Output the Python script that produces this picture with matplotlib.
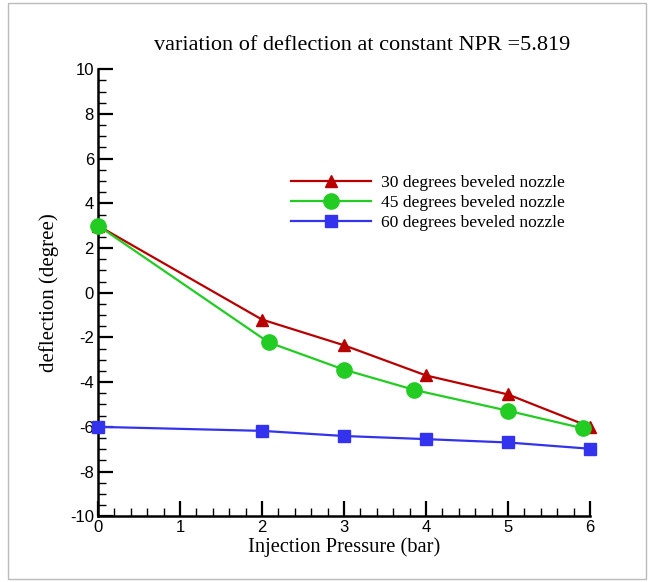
import matplotlib
matplotlib.use("Agg")
import matplotlib.pyplot as plt
from matplotlib.ticker import MultipleLocator, FuncFormatter
from matplotlib.patches import Rectangle

x30 = [0, 2, 3, 4, 5, 6]
y30 = [3.0, -1.2, -2.35, -3.7, -4.55, -6.0]
x45 = [0, 2.08, 3.0, 3.86, 5.0, 5.91]
y45 = [3.0, -2.22, -3.44, -4.35, -5.28, -6.06]
x60 = [0, 2, 3, 4, 5, 6]
y60 = [-6.0, -6.18, -6.41, -6.55, -6.70, -6.98]
labels = ["30 degrees beveled nozzle", "45 degrees beveled nozzle", "60 degrees beveled nozzle"]

fig = plt.figure(figsize=(6.54, 5.82), dpi=100)
ax = fig.add_axes([0.150, 0.113, 0.752, 0.768])

ax.plot(x30, y30, color="#b80000", lw=1.6, marker="^", ms=9, label=labels[0], clip_on=False, zorder=3)
ax.plot(x45, y45, color="#22cc22", lw=1.6, marker="o", ms=11, label=labels[1], clip_on=False, zorder=4)
ax.plot(x60, y60, color="#3333ee", lw=1.6, marker="s", ms=8, label=labels[2], clip_on=False, zorder=3)

ax.set_xlim(0, 6)
ax.set_ylim(-10, 10)
ax.xaxis.set_major_locator(MultipleLocator(1))
ax.xaxis.set_minor_locator(MultipleLocator(0.2))
ax.yaxis.set_major_locator(MultipleLocator(2))
ax.yaxis.set_minor_locator(MultipleLocator(0.5))
fmt = FuncFormatter(lambda v, p: "%d" % round(v))
ax.xaxis.set_major_formatter(fmt)
ax.yaxis.set_major_formatter(fmt)
for s in ["top", "right"]:
    ax.spines[s].set_visible(False)
for s in ["left", "bottom"]:
    ax.spines[s].set_linewidth(1.8)
ax.tick_params(which="major", direction="in", length=11, width=1.6, labelsize=12, pad=3)
ax.tick_params(which="minor", direction="in", length=6, width=1.0)
for lab in ax.get_xticklabels() + ax.get_yticklabels():
    lab.set_fontfamily("Liberation Sans")

serif = "Liberation Serif"
ax.set_xlabel("Injection Pressure (bar)", fontfamily=serif, fontsize=14.8, labelpad=1)
ax.set_ylabel("deflection (degree)", fontfamily=serif, fontsize=15, labelpad=8)
fig.text(0.553, 0.922, "variation of deflection at constant NPR =5.819", fontfamily=serif,
         fontsize=16, ha="center", va="center")

leg = ax.legend(loc="upper left", bbox_to_anchor=(0.36, 0.80), frameon=False,
                prop={"family": serif, "size": 12.6}, handlelength=4.6,
                labelspacing=0.22, handletextpad=0.57)

fig.patches.append(Rectangle((0.012, 0.005), 0.976, 0.99, transform=fig.transFigure,
                             fill=False, edgecolor="#bbbbbb", lw=1))

fig.savefig("out.png", dpi=100)
